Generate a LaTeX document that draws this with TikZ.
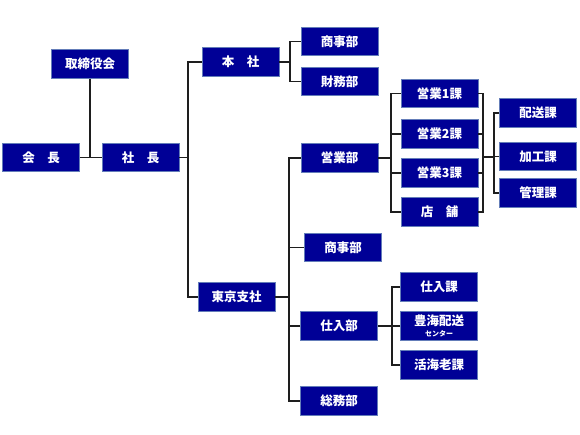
\documentclass[tikz,border=0pt]{standalone}
\usepackage{fontspec}
\newfontfamily\jp{Noto Sans CJK JP}
\definecolor{boxfill}{RGB}{0,0,150}
\definecolor{boxedge}{RGB}{100,125,185}
\definecolor{linec}{RGB}{30,30,30}
\begin{document}
\begin{tikzpicture}[x=1pt,y=-1pt,
  box/.style={draw=boxedge,line width=0.8pt,fill=boxfill,text=white,
    minimum width=77pt,minimum height=28.5pt,inner sep=0pt,
    font=\jp\bfseries\fontsize{12.5}{14}\selectfont,align=center},
  conn/.style={draw=linec,line width=1.8pt}]
\useasboundingbox (0,0) rectangle (580,435);
% nodes
\node[box] (tori) at (90,64) {取締役会};
\node[box] (kaicho) at (41,157.5) {会　長};
\node[box] (shacho) at (140.5,157.5) {社　長};
\node[box] (honsha) at (240.5,62) {本　社};
\node[box] (shojiA) at (339.5,41.5) {商事部};
\node[box] (zaimu) at (339.5,81.5) {財務部};
\node[box] (eigyo) at (339.5,158) {営業部};
\node[box] (tokyo) at (236.5,297) {東京支社};
\node[box] (shojiB) at (343,247.5) {商事部};
\node[box] (shiire) at (339,326) {仕入部};
\node[box] (somu) at (339,401) {総務部};
\node[box] (eA) at (439.5,93.5) {営業1課};
\node[box] (eB) at (439.5,134) {営業2課};
\node[box] (eC) at (439.5,173) {営業3課};
\node[box] (ten) at (439.5,212) {店　舗};
\node[box] (haiso) at (538,113) {配送課};
\node[box] (kako) at (538,156.5) {加工課};
\node[box] (kanri) at (538,193) {管理課};
\node[box] (sA) at (439,287) {仕入課};
\node[box] (sB) at (439,326) {豊海配送\\[-3pt]{\fontsize{7}{8}\selectfont センター}};
\node[box] (sC) at (439,365) {活海老課};
% bus coordinates
\coordinate (j1) at (188,0);
\coordinate (j2) at (290,0);
\coordinate (j3) at (289,0);
\coordinate (j4) at (391,0);
\coordinate (j5) at (483,0);
\coordinate (j7) at (392,0);
\coordinate (m5) at (483,157);
\coordinate (m6) at (494,157);
% connectors
\begin{scope}[line join=miter]
\path[conn] (tori.south) -- (tori.south |- kaicho.east);
\path[conn] (kaicho.east) -- (shacho.west);
\path[conn] (shacho.east) -- (shacho.east -| j1);
\path[conn] (honsha.west) -- (honsha.west -| j1) -- (tokyo.west -| j1) -- (tokyo.west);
\path[conn] (honsha.east) -- (honsha.east -| j2);
\path[conn] (shojiA.west) -- (shojiA.west -| j2) -- (zaimu.west -| j2) -- (zaimu.west);
\path[conn] (eigyo.west) -- (eigyo.west -| j3) -- (somu.west -| j3) -- (somu.west);
\path[conn] (tokyo.east) -- (tokyo.east -| j3);
\path[conn] (shojiB.west) -- (shojiB.west -| j3);
\path[conn] (shiire.west) -- (shiire.west -| j3);
\path[conn] (eigyo.east) -- (eigyo.east -| j4);
\path[conn] (eA.west) -- (eA.west -| j4) -- (ten.west -| j4) -- (ten.west);
\path[conn] (eB.west) -- (eB.west -| j4);
\path[conn] (eC.west) -- (eC.west -| j4);
\path[conn] (eA.east) -- (eA.east -| j5) -- (ten.east -| j5) -- (ten.east);
\path[conn] (eB.east) -- (eB.east -| j5);
\path[conn] (eC.east) -- (eC.east -| j5);
\path[conn] (m5) -- (m6);
\path[conn] (haiso.west) -- (haiso.west -| m6) -- (kanri.west -| m6) -- (kanri.west);
\path[conn] (kako.west) -- (kako.west -| m6);
\path[conn] (shiire.east) -- (shiire.east -| j7);
\path[conn] (sA.west) -- (sA.west -| j7) -- (sC.west -| j7) -- (sC.west);
\path[conn] (sB.west) -- (sB.west -| j7);
\end{scope}
\end{tikzpicture}
\end{document}
